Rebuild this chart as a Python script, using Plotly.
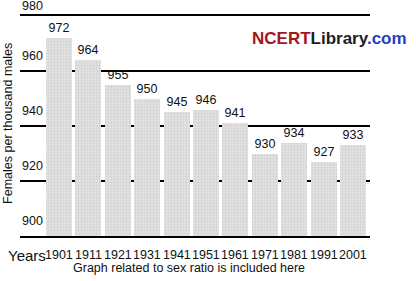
import plotly.graph_objects as go

years = ["1901", "1911", "1921", "1931", "1941", "1951", "1961", "1971", "1981", "1991", "2001"]
sex_ratio = [972, 964, 955, 950, 945, 946, 941, 930, 934, 927, 933]
y_ticks = [900, 920, 940, 960, 980]
y_title = "Females per thousand males"
caption = "Graph related to sex ratio is included here"

base = 900
idx = list(range(len(years)))
FONT = "Liberation Sans, Arial"

fig = go.Figure()
fig.add_trace(go.Bar(
    x=idx,
    y=[v - base for v in sex_ratio],
    base=base,
    width=0.88,
    text=[str(v) for v in sex_ratio],
    textposition="outside",
    cliponaxis=False,
    textfont=dict(size=12.5, color="#111", family=FONT),
    marker=dict(
        color="#dadada",
        line=dict(width=0),
        pattern=dict(shape=".", fgcolor="#bcbcbc", bgcolor="#e2e2e2", size=3, solidity=0.35),
    ),
    showlegend=False,
))

# y tick labels placed above each line
for t in y_ticks:
    fig.add_annotation(
        x=0, xref="paper", y=t, yref="y",
        text=str(t), showarrow=False,
        xanchor="left", yanchor="bottom",
        yshift=1 if t == y_ticks[-1] else 6,
        font=dict(size=12.5, color="#111", family=FONT),
    )

# year labels under the bars
for i, yr in zip(idx, years):
    fig.add_annotation(
        x=i, xref="x", y=0, yref="paper",
        text=yr, showarrow=False, xanchor="center", yanchor="top", yshift=-10,
        font=dict(size=12.5, color="#111", family=FONT),
    )

fig.add_annotation(
    x=-0.034, xref="paper", y=0.51, yref="paper",
    text=y_title, textangle=-90, showarrow=False,
    xanchor="center", yanchor="middle",
    font=dict(size=12.5, color="#111", family=FONT),
)

fig.add_annotation(
    x=-0.04, xref="paper", y=0, yref="paper",
    text="Years", showarrow=False, xanchor="left", yanchor="top", yshift=-9,
    font=dict(size=15, color="#111", family=FONT),
)

fig.add_annotation(
    x=0.482, xref="paper", y=0, yref="paper",
    text=caption, showarrow=False, xanchor="center", yanchor="top", yshift=-23,
    font=dict(size=12.5, color="#111", family=FONT),
)

fig.add_annotation(
    x=1.112, xref="paper", y=0.9, yref="paper",
    text="<b><span style='color:#a5161a'>NCERT</span><span style='color:#1e1e1e'>Library</span><span style='color:#1f3fc4'>.com</span></b>",
    showarrow=False, xanchor="right", yanchor="middle",
    font=dict(size=17, family="Liberation Sans Narrow, Liberation Sans, Arial"),
)

fig.update_layout(
    width=416, height=281,
    margin=dict(l=20, r=46, t=16, b=45, autoexpand=False),
    paper_bgcolor="white", plot_bgcolor="white",
    bargap=0,
    xaxis=dict(
        range=[-1.327, 10.578],
        showticklabels=False,
        showgrid=False, zeroline=False,
        showline=True, mirror=True, linecolor="black", linewidth=2,
        ticks="",
    ),
    yaxis=dict(
        range=[900, 980],
        tickvals=y_ticks, showticklabels=False,
        showgrid=True, gridcolor="black", gridwidth=2,
        zeroline=False, showline=False, ticks="",
    ),
)

fig.write_html("out.html")
